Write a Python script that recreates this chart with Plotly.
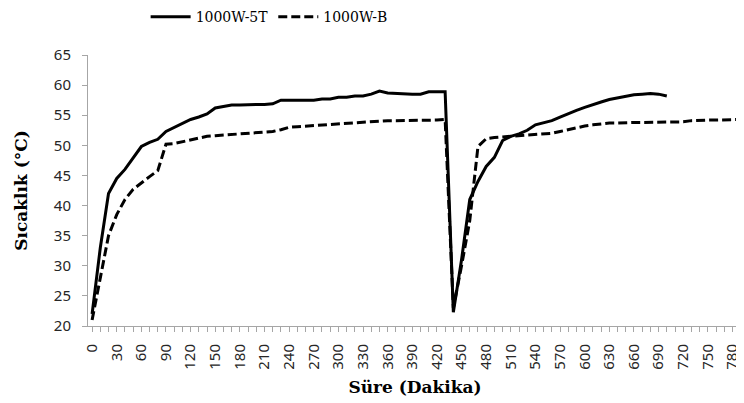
import plotly.graph_objects as go

time_5t = list(range(0, 710, 10))
temp_5t = [22, 33, 42, 44.5, 46, 48, 49.8, 50.5, 51, 52.3,
           53, 53.7, 54.3, 54.7, 55.2, 56.2, 56.5, 56.7, 56.7, 56.8,
           56.8, 56.8, 56.9, 57.5, 57.5, 57.5, 57.6, 57.5, 57.7, 57.7,
           58, 58, 58.2, 58.2, 58.5, 59, 58.7, 58.6, 58.5, 58.5,
           58.5, 58.9, 58.9, 58.9, 22.3, 31, 41, 44, 46.5, 48,
           50.8, 51.5, 51.9, 52.5, 53.4, 53.8, 54.1, 54.7, 55.3, 55.8,
           56.3, 56.8, 57.2, 57.6, 57.9, 58.2, 58.4, 58.5, 58.6, 58.5,
           58.2]

time_b = list(range(0, 800, 10))
temp_b = [21, 28, 35, 38.5, 41, 42.7, 43.8, 44.8, 45.8, 50.2,
          50.3, 50.6, 51, 51.3, 51.5, 51.6, 51.7, 51.8, 51.9, 52,
          52.1, 52.2, 52.3, 52.6, 53, 53.1, 53.2, 53.3, 53.4, 53.5,
          53.6, 53.7, 53.8, 53.9, 54, 54, 54.1, 54.1, 54.1, 54.2,
          54.2, 54.2, 54.2, 54.3, 23, 30, 37.5, 49.8, 51.1, 51.3,
          51.4, 51.5, 51.6, 51.8, 51.9, 52, 52, 52.3, 52.6, 53,
          53.2, 53.4, 53.6, 53.7, 53.7, 53.8, 53.8, 53.8, 53.8, 53.8,
          53.8, 53.8, 53.9, 54.1, 54.2, 54.2, 54.2, 54.2, 54.3, 54.3]

x_ticks = list(range(0, 790, 30))
y_ticks = list(range(20, 70, 5))

serif = "DejaVu Serif"
sans = "Noto Sans"

fig = go.Figure()
fig.add_trace(go.Scatter(x=time_5t, y=temp_5t, mode="lines", name="1000W-5T",
                         line=dict(color="black", width=3)))
fig.add_trace(go.Scatter(x=time_b, y=temp_b, mode="lines", name="1000W-B",
                         line=dict(color="black", width=3, dash="9px,4px")))

fig.update_layout(
    width=736, height=395,
    margin=dict(l=80, r=2, t=47, b=77, autoexpand=False),
    paper_bgcolor="white", plot_bgcolor="white",
    showlegend=True,
    legend=dict(orientation="h", xref="container", yref="container",
                x=0.187, xanchor="left", y=0.977, yanchor="middle",
                font=dict(family=serif, size=14, color="black"),
                itemwidth=40, tracegroupgap=0),
    xaxis=dict(range=[-5, 791.6], tickmode="array", tickvals=x_ticks,
               ticktext=[str(v) for v in x_ticks], tickangle=-90,
               showgrid=False, zeroline=False, showline=True,
               linecolor="#a6a6a6", linewidth=1,
               ticks="outside", ticklen=5, tickcolor="#a6a6a6",
               ticklabelstandoff=6,
               minor=dict(dtick=10, tick0=0, ticks="outside", ticklen=5,
                          tickcolor="#a6a6a6", showgrid=False),
               tickfont=dict(family=sans, size=15, color="#262626"),
               automargin=False,
               title=dict(text="<b>Süre (Dakika)</b>", standoff=12,
                          font=dict(family=serif, size=17, color="black"))),
    yaxis=dict(range=[20, 65], tickmode="array", tickvals=y_ticks,
               showgrid=False, zeroline=False, showline=True,
               linecolor="#a6a6a6", linewidth=1,
               ticks="outside", ticklen=5, tickcolor="#a6a6a6",
               ticklabelstandoff=8,
               tickfont=dict(family=sans, size=15, color="#262626"),
               automargin=False,
               title=dict(text="<b>Sıcaklık (°C)</b>", standoff=21,
                          font=dict(family=serif, size=17, color="black"))),
)

fig.write_html("out.html")
